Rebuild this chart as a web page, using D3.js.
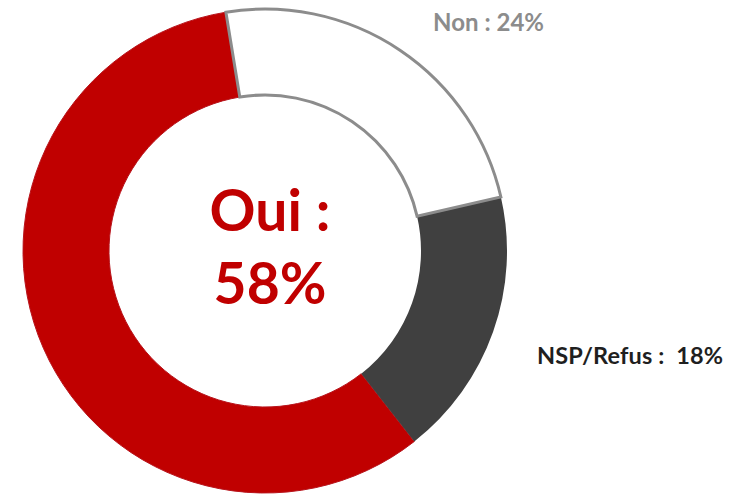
<!DOCTYPE html>
<html>
<head>
<meta charset="utf-8">
<script src="https://cdn.jsdelivr.net/npm/d3@7"></script>
<style>
  body { margin: 0; background: #fff; }
  text { font-family: Lato, "Open Sans", sans-serif; font-weight: bold; white-space: pre; }
</style>
</head>
<body>
<div id="chart"></div>
<script>
const categories = ["Non", "NSP/Refus", "Oui"];
const values = [24, 18, 58];
const labels = ["Non : 24%", "NSP/Refus :  18%"];
const centerLines = ["Oui :", "58%"];

const width = 732;
const height = 494;

const svg = d3
  .select("#chart")
  .append("svg")
  .attr("width", width)
  .attr("height", height);

const cx = 265;
const cy = 251;
const outerR = 242;
const innerR = 156;
const startAngle = (-9.3 * Math.PI) / 180;

const pie = d3
  .pie()
  .sort(null)
  .startAngle(startAngle)
  .endAngle(startAngle + 2 * Math.PI);

const arc = d3.arc().innerRadius(innerR).outerRadius(outerR);

const fills = { Non: "#ffffff", "NSP/Refus": "#404040", Oui: "#c00000" };
const strokes = { Non: "#8c8c8c", "NSP/Refus": "none", Oui: "#b8141c" };
const strokeW = { Non: 3, "NSP/Refus": 0, Oui: 1 };

const g = svg.append("g").attr("transform", `translate(${cx},${cy})`);

const arcs = pie(values).map((d, i) => ({ ...d, cat: categories[i] }));

// draw Oui and NSP first, Non on top so its grey border shows
g.selectAll(".slice")
  .data([arcs[2], arcs[1], arcs[0]])
  .join("path")
  .attr("class", "slice")
  .attr("d", arc)
  .attr("fill", (d) => fills[d.cat])
  .attr("stroke", (d) => strokes[d.cat])
  .attr("stroke-width", (d) => strokeW[d.cat])
  .attr("stroke-linejoin", "miter");

svg
  .append("text")
  .attr("x", 433)
  .attr("y", 31)
  .attr("font-size", 24)
  .attr("textLength", 111)
  .attr("fill", "#8c8c8c")
  .text(labels[0]);

svg
  .append("text")
  .attr("x", 537)
  .attr("y", 364)
  .attr("font-size", 23.5)
  .attr("textLength", 186)
  .attr("fill", "#1f1f1f")
  .text(labels[1]);

svg
  .selectAll(".center")
  .data(centerLines)
  .join("text")
  .attr("class", "center")
  .attr("x", 270)
  .attr("y", (d, i) => 231 + i * 73)
  .attr("text-anchor", "middle")
  .attr("font-size", 57)
  .attr("fill", "#c00000")
  .text((d) => d);
</script>
</body>
</html>
